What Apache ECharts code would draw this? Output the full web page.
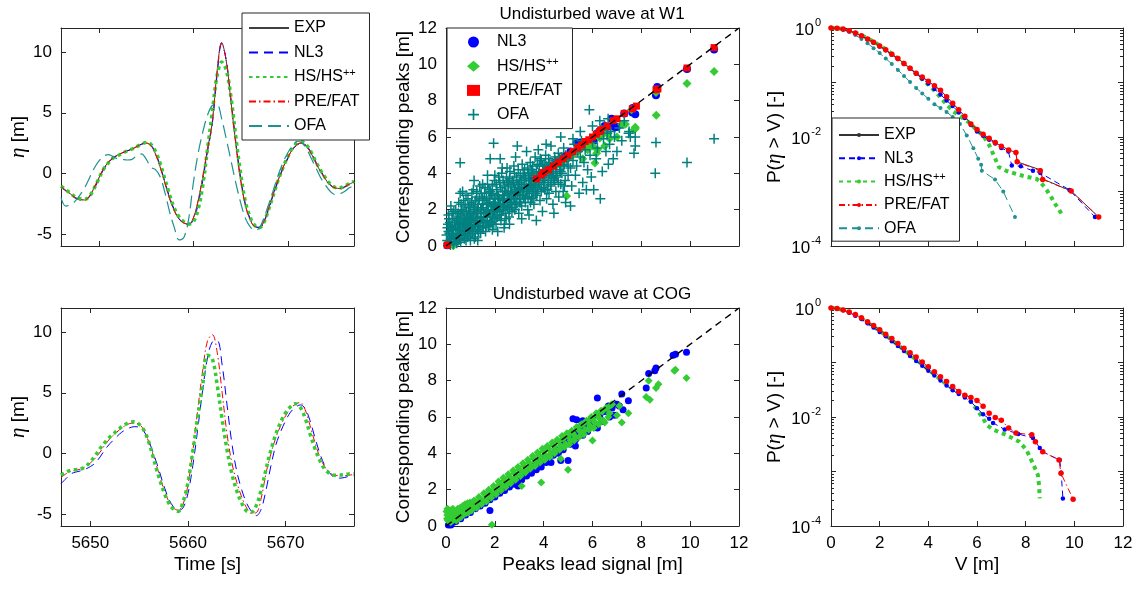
<!DOCTYPE html>
<html>
<head>
<meta charset="utf-8">
<script src="https://cdn.jsdelivr.net/npm/echarts@6/dist/echarts.min.js"></script>
<style>
html, body { margin: 0; padding: 0; background: #fff; }
#main { width: 1138px; height: 590px; }
</style>
</head>
<body>
<div id="main"></div>
<script>
// ---- time series (left column) ----
var tTop = [506,506.5,507,507.5,508,508.5,509,509.5,510,510.5,511,511.5,512,512.5,513,513.5,514,514.5,515,515.5,516,516.5,517,517.5,518,518.5,519,519.5,520,520.5,521,521.5,522,522.5,523,523.5,524,524.5,525,525.5,526,526.5,527,527.5,528,528.5,529,529.5,530,530.5,531,531.5,532,532.5,533,533.5,534,534.5,535,535.5,536,536.5,537];
var expTop = [-1.1,-1.4,-1.7,-2.0,-2.15,-2.2,-1.9,-1.2,-0.4,0.4,0.9,1.3,1.5,1.7,1.85,2.0,2.2,2.4,2.5,2.3,1.6,0.5,-0.8,-2.1,-3.1,-3.8,-4.1,-4.2,-3.7,-2.3,-0.3,2.0,4.2,8.3,10.8,9.2,5.8,2.4,-0.5,-2.6,-3.8,-4.4,-4.45,-3.9,-2.8,-1.6,-0.5,0.5,1.3,2.0,2.4,2.5,2.2,1.6,0.8,0.1,-0.5,-1.0,-1.2,-1.25,-1.1,-0.9,-0.7];
var nl3Top = [-1.15,-1.45,-1.75,-2.05,-2.2,-2.25,-1.95,-1.3,-0.5,0.3,0.85,1.25,1.5,1.7,1.85,2.0,2.2,2.4,2.5,2.35,1.7,0.6,-0.7,-2.0,-3.0,-3.75,-4.1,-4.25,-3.85,-2.6,-0.6,1.8,4.0,8.0,10.7,9.3,6.0,2.6,-0.3,-2.5,-3.7,-4.35,-4.5,-4.0,-2.9,-1.7,-0.6,0.4,1.2,1.95,2.35,2.5,2.25,1.7,0.9,0.2,-0.45,-0.95,-1.2,-1.3,-1.15,-0.95,-0.75];
var hsTop = [-1.05,-1.35,-1.65,-1.95,-2.1,-2.15,-1.9,-1.25,-0.45,0.35,0.85,1.25,1.45,1.65,1.85,2.0,2.2,2.4,2.55,2.4,1.8,0.8,-0.5,-1.8,-2.9,-3.6,-4.0,-4.2,-4.0,-3.0,-1.0,2.0,5.0,8.0,9.2,8.5,6.2,3.0,0.0,-2.3,-3.6,-4.3,-4.5,-4.0,-2.9,-1.7,-0.5,0.5,1.4,2.1,2.5,2.6,2.3,1.7,0.9,0.2,-0.4,-0.9,-1.15,-1.2,-1.05,-0.85,-0.65];
var preTop = [-1.1,-1.4,-1.7,-2.0,-2.15,-2.2,-1.9,-1.2,-0.4,0.4,0.9,1.3,1.5,1.7,1.85,2.0,2.2,2.4,2.5,2.3,1.6,0.5,-0.8,-2.1,-3.1,-3.8,-4.1,-4.2,-3.7,-2.3,-0.3,2.0,4.2,8.3,10.8,9.2,5.8,2.4,-0.5,-2.6,-3.8,-4.4,-4.45,-3.9,-2.8,-1.6,-0.5,0.5,1.3,2.0,2.4,2.5,2.2,1.6,0.8,0.1,-0.5,-1.0,-1.2,-1.25,-1.1,-0.9,-0.7];
var ofaTop = [-2.0,-2.7,-2.6,-2.3,-1.8,-1.2,-0.4,0.4,1.0,1.4,1.55,1.4,1.2,1.15,1.1,1.15,1.45,1.6,1.2,0.5,0.3,-0.3,-1.6,-3.2,-4.5,-5.5,-5.3,-3.8,-0.8,1.6,3.4,4.8,5.6,5.7,4.5,2.8,1.0,-0.8,-2.4,-3.7,-4.4,-4.7,-4.5,-3.6,-2.5,-1.3,-0.1,0.9,1.7,2.3,2.65,2.5,2.0,1.2,0.4,-0.4,-1.0,-1.5,-1.75,-1.7,-1.5,-1.2,-1.0];

var tBot = [5647,5647.5,5648,5648.5,5649,5649.5,5650,5650.5,5651,5651.5,5652,5652.5,5653,5653.5,5654,5654.5,5655,5655.5,5656,5656.5,5657,5657.5,5658,5658.5,5659,5659.5,5660,5660.5,5661,5661.5,5662,5662.5,5663,5663.5,5664,5664.5,5665,5665.5,5666,5666.5,5667,5667.5,5668,5668.5,5669,5669.5,5670,5670.5,5671,5671.5,5672,5672.5,5673,5673.5,5674,5674.5,5675,5675.5,5676,5676.5,5677];
var nl3Bot = [-2.5,-2.1,-1.7,-1.55,-1.45,-1.3,-1.1,-0.8,-0.3,0.3,0.8,1.2,1.6,1.9,2.1,2.2,2.15,1.8,1.0,-0.1,-1.3,-2.6,-3.7,-4.4,-4.7,-4.5,-3.3,-1.0,2.0,5.2,7.9,9.2,9.3,7.3,4.0,0.8,-1.5,-3.0,-4.1,-4.8,-5.15,-4.6,-3.0,-1.0,0.7,1.8,2.7,3.4,3.8,4.0,3.7,2.7,1.3,0.0,-1.0,-1.6,-2.0,-2.05,-2.0,-1.9,-1.85];
var hsBot = [-1.8,-1.55,-1.4,-1.35,-1.3,-1.1,-0.7,-0.2,0.4,0.9,1.35,1.7,2.05,2.35,2.55,2.6,2.4,1.9,0.9,-0.5,-1.9,-3.1,-4.05,-4.6,-4.8,-4.0,-2.4,0.2,3.0,5.6,8.1,7.8,5.6,2.8,0.3,-1.7,-3.1,-4.1,-4.75,-4.85,-4.3,-3.0,-1.3,0.3,1.6,2.6,3.35,3.85,4.1,3.8,2.9,1.6,0.4,-0.6,-1.3,-1.65,-1.8,-1.8,-1.75,-1.7,-1.7];
var preBot = [-2.0,-1.7,-1.5,-1.4,-1.3,-1.1,-0.8,-0.4,0.1,0.7,1.2,1.6,1.95,2.25,2.45,2.5,2.4,1.9,0.9,-0.3,-1.6,-2.9,-3.9,-4.5,-4.7,-4.2,-2.6,0.2,3.6,6.8,9.3,9.8,8.3,5.0,1.6,-0.8,-2.4,-3.6,-4.5,-4.95,-4.9,-3.7,-1.6,0.0,1.3,2.3,3.1,3.7,4.05,4.2,3.6,2.3,0.9,-0.3,-1.1,-1.6,-1.8,-1.85,-1.85,-1.8,-1.75];

var tTicksTop = [510, 520, 530];
var tTicksBot = [5650, 5660, 5670];
var etaTicks = [-5, 0, 5, 10];

// ---- peak scatter (middle column), [lead, corresponding] ----
var nl3Peaks = [[0.05,0.04],[1.0,1.0],[2.0,2.0],[3.0,3.0],[3.5,3.6],[3.9,4.0],[4.1,4.15],[4.3,4.35],[4.5,4.6],[4.7,4.75],[4.9,4.95],[5.1,5.2],[5.35,5.65],[5.5,5.7],[5.6,5.5],[5.8,5.75],[5.9,5.6],[6.05,5.8],[6.2,6.2],[6.3,6.35],[6.5,6.6],[6.6,6.55],[6.78,7.0],[6.9,6.55],[7.0,6.55],[7.3,7.3],[7.63,7.35],[7.75,7.25],[7.65,7.6],[8.6,8.3],[8.65,8.75],[9.87,9.75],[10.98,10.82]];
var hsPeaks = [[0.3,0.02],[0.05,0.1],[1,1.0],[2,2.0],[3,2.95],[3.5,3.45],[4.0,3.9],[4.2,4.1],[4.5,4.4],[4.7,4.5],[4.8,4.7],[4.94,2.75],[5.0,4.8],[5.2,5.0],[5.4,5.2],[5.5,5.3],[5.6,4.8],[5.7,5.5],[5.8,5.3],[5.9,5.6],[6.0,5.5],[6.1,4.57],[6.17,5.1],[6.2,5.3],[6.3,5.95],[6.4,6.1],[6.5,5.5],[6.6,6.2],[6.7,5.9],[7.0,6.0],[7.2,6.7],[7.35,6.7],[7.75,6.53],[7.75,6.45],[7.7,6.4],[7.6,7.5],[8.61,7.2],[8.6,8.45],[9.87,8.95],[10.98,9.6]];
var prePeaks = [[0.05,0.05],[3.7,3.7],[3.9,3.9],[4.0,4.05],[4.2,4.2],[4.4,4.4],[4.6,4.6],[4.8,4.8],[5.0,5.0],[5.2,5.2],[5.4,5.4],[5.55,5.55],[5.7,5.75],[5.85,5.85],[6.0,6.0],[6.15,6.15],[6.3,6.3],[6.35,6.4],[6.6,6.6],[6.85,6.9],[7.0,7.0],[7.3,7.3],[7.63,7.55],[7.8,7.7],[8.6,8.6],[8.68,8.65],[9.87,9.8],[10.98,10.92]];
var ofaPeaks = [
[0.05,0.3],[0.1,0.8],[0.12,1.5],[0.15,0.2],[0.2,1.1],[0.22,0.5],[0.25,1.8],[0.3,0.1],[0.3,0.9],[0.35,1.3],[0.4,0.4],[0.4,2.0],[0.45,0.7],[0.48,1.6],[0.08,1.2],[0.18,0.05],[0.28,0.6],[0.38,1.0],[0.5,0.3],[0.5,1.2],
[0.02,0.6],[0.06,1.0],[0.1,0.15],[0.1,1.7],[0.14,0.7],[0.16,1.3],[0.2,0.4],[0.2,2.2],[0.24,0.9],[0.26,1.5],[0.3,0.5],[0.32,1.9],[0.34,0.25],[0.36,1.1],[0.42,1.4],[0.44,0.15],[0.46,1.0],[0.5,1.8],[0.5,0.6],[0.52,2.4],
[0.55,0.9],[0.6,1.5],[0.6,0.2],[0.62,2.3],[0.65,0.6],[0.7,1.1],[0.7,1.9],[0.75,0.4],[0.78,1.4],[0.8,0.8],[0.82,2.8],[0.85,1.7],[0.88,0.5],[0.9,1.2],[0.92,2.1],[0.95,0.9],[0.98,1.5],[1.0,0.3],[0.58,2.9],[0.72,1.3],[0.68,3.0],
[0.54,1.3],[0.56,0.35],[0.58,1.7],[0.6,1.0],[0.62,0.6],[0.64,2.0],[0.66,1.25],[0.7,0.7],[0.72,2.5],[0.74,1.6],[0.76,0.9],[0.78,2.2],[0.8,1.2],[0.82,0.3],[0.84,1.9],[0.86,1.1],[0.9,1.5],[0.9,2.6],[0.94,0.6],[0.96,1.8],[0.98,2.3],[1.0,1.3],[1.0,0.8],
[1.02,1.0],[1.05,2.4],[1.08,0.7],[1.1,1.6],[1.12,3.1],[1.15,1.2],[1.18,2.0],[1.2,0.5],[1.22,1.4],[1.25,2.7],[1.28,0.9],[1.3,1.8],[1.32,2.3],[1.35,1.1],[1.38,3.3],[1.4,1.6],[1.42,0.7],[1.45,2.1],[1.48,1.3],[1.5,2.6],[1.15,3.6],[1.3,0.3],
[1.02,1.8],[1.04,1.4],[1.06,2.9],[1.1,0.9],[1.12,2.2],[1.14,1.7],[1.16,0.4],[1.2,2.5],[1.22,1.1],[1.24,1.9],[1.26,3.0],[1.28,1.5],[1.3,2.1],[1.34,0.8],[1.36,2.6],[1.4,1.3],[1.42,2.0],[1.44,2.9],[1.46,1.6],[1.5,1.0],[1.5,2.3],[1.5,3.4],
[1.52,1.0],[1.55,1.8],[1.58,2.9],[1.6,1.4],[1.62,0.8],[1.65,2.3],[1.68,1.6],[1.7,3.4],[1.72,2.0],[1.75,1.1],[1.78,2.6],[1.8,1.7],[1.82,3.0],[1.85,1.3],[1.88,2.2],[1.9,0.9],[1.92,2.8],[1.95,1.9],[1.98,3.6],[2.0,1.5],[0.58,4.58],[1.81,4.8],[1.95,5.65],[1.7,3.9],
[1.52,2.0],[1.54,1.3],[1.56,2.5],[1.6,1.8],[1.6,3.2],[1.64,1.1],[1.66,2.7],[1.7,1.4],[1.72,2.3],[1.74,1.9],[1.76,3.1],[1.8,2.4],[1.8,1.2],[1.84,2.0],[1.86,2.9],[1.9,1.6],[1.9,3.3],[1.94,2.3],[1.96,1.2],[2.0,2.6],[2.0,1.9],[2.0,3.9],
[2.02,2.4],[2.05,1.2],[2.08,3.1],[2.1,2.0],[2.12,0.8],[2.15,2.7],[2.18,1.7],[2.2,3.5],[2.22,2.3],[2.25,1.4],[2.28,4.0],[2.3,2.0],[2.32,3.0],[2.35,2.6],[2.38,1.0],[2.4,3.3],[2.42,2.2],[2.45,1.8],[2.48,3.8],[2.5,2.9],[2.22,4.8],[2.3,4.3],[2.4,1.2],
[2.04,2.2],[2.06,3.4],[2.1,1.6],[2.1,2.8],[2.14,2.3],[2.16,3.8],[2.2,1.9],[2.2,2.6],[2.24,3.2],[2.26,1.7],[2.3,2.5],[2.34,3.6],[2.36,2.1],[2.4,2.8],[2.44,3.0],[2.46,1.5],[2.5,2.2],[2.5,3.5],[2.5,4.3],
[2.52,2.1],[2.55,3.4],[2.58,1.6],[2.6,2.6],[2.62,4.1],[2.65,3.0],[2.68,2.3],[2.7,1.9],[2.72,3.6],[2.75,2.7],[2.78,4.4],[2.8,3.2],[2.82,2.0],[2.85,2.9],[2.88,3.8],[2.9,2.4],[2.92,5.5],[2.95,3.4],[2.98,1.8],[3.0,3.0],[2.6,1.2],[2.85,4.9],
[2.54,2.6],[2.56,3.0],[2.6,2.0],[2.6,3.7],[2.64,2.4],[2.66,3.3],[2.7,2.9],[2.74,2.1],[2.76,3.5],[2.8,2.6],[2.8,4.0],[2.84,3.1],[2.86,2.3],[2.9,3.6],[2.94,2.8],[2.96,4.2],[3.0,2.4],[3.0,3.5],
[3.02,2.6],[3.05,3.9],[3.08,3.3],[3.1,2.2],[3.12,4.5],[3.15,3.0],[3.18,2.7],[3.2,3.7],[3.22,4.2],[3.25,2.4],[3.28,3.4],[3.3,5.2],[3.32,3.1],[3.35,2.0],[3.38,4.0],[3.4,3.6],[3.42,2.9],[3.45,4.6],[3.48,3.3],[3.5,2.6],[3.1,1.5],[3.4,1.7],
[3.04,3.0],[3.06,2.4],[3.1,3.6],[3.14,2.8],[3.16,4.0],[3.2,3.2],[3.24,2.6],[3.26,3.8],[3.3,3.0],[3.34,4.3],[3.36,2.7],[3.4,3.3],[3.44,3.9],[3.46,2.4],[3.5,3.4],[3.5,4.2],
[3.52,3.9],[3.55,4.4],[3.58,3.0],[3.6,2.3],[3.62,3.6],[3.65,4.9],[3.68,3.3],[3.7,4.1],[3.72,2.8],[3.75,3.8],[3.78,5.3],[3.8,3.5],[3.82,4.4],[3.85,2.5],[3.88,3.9],[3.9,4.7],[3.92,3.2],[3.95,1.9],[3.98,4.2],[4.0,3.6],[3.7,1.4],[4.1,5.6],
[3.54,3.2],[3.56,2.7],[3.6,4.0],[3.64,3.4],[3.66,2.9],[3.7,3.7],[3.74,4.5],[3.76,3.1],[3.8,4.0],[3.84,3.4],[3.86,4.8],[3.9,3.0],[3.94,3.8],[3.96,4.4],[4.0,3.2],[4.0,4.0],
[4.02,4.5],[4.05,3.1],[4.08,5.0],[4.1,3.9],[4.12,2.6],[4.15,4.3],[4.18,3.5],[4.2,4.8],[4.22,2.9],[4.25,4.0],[4.28,3.3],[4.3,5.5],[4.32,3.8],[4.35,4.5],[4.38,2.3],[4.4,4.1],[4.42,1.8],[4.45,3.6],[4.48,4.7],[4.5,3.0],
[4.05,3.6],[4.1,4.4],[4.15,3.1],[4.2,3.9],[4.25,4.6],[4.3,3.4],[4.35,4.0],[4.4,3.7],[4.45,4.9],[4.5,3.9],[4.55,4.6],[4.6,3.5],[4.65,4.8],[4.7,4.1],[4.8,4.4],[4.85,3.3],[4.9,5.0],[5.0,4.4],
[4.52,4.4],[4.55,3.8],[4.6,5.1],[4.62,2.7],[4.65,4.2],[4.7,3.4],[4.72,4.9],[4.75,4.0],[4.8,3.0],[4.82,5.4],[4.85,4.5],[4.88,3.6],[4.9,2.4],[4.95,4.8],[5.0,3.9],[5.1,2.2],[4.7,6.0],
[5.05,5.0],[5.1,4.3],[5.15,3.3],[5.2,4.7],[5.25,5.6],[5.3,3.9],[5.35,4.4],[5.4,5.2],[5.45,2.9],[5.5,4.9],[5.55,5.8],[5.6,3.5],[5.65,4.6],[5.7,5.3],[5.75,3.1],[5.8,4.2],[5.87,7.5],[5.9,5.0],[5.95,3.8],[6.0,5.7],[5.5,6.3],[5.2,5.9],
[6.05,3.1],[6.1,6.1],[6.15,4.8],[6.2,5.4],[6.32,2.6],[6.35,6.4],[6.4,4.1],[6.45,5.9],[6.5,6.6],[6.55,5.2],[6.64,7.0],[6.65,4.5],[6.7,5.6],[6.75,6.3],[6.85,4.8],[6.9,6.0],[7.0,5.2],[7.1,6.5],[7.2,5.8],[7.3,6.9],[7.48,6.2],[7.5,6.3],[7.55,6.0],[7.75,5.5],[7.7,5.1],[7.75,6.0],[6.3,6.9],[6.0,6.6],[6.6,6.2],
[8.6,5.7],[8.57,4.0],[9.87,4.6],[10.98,5.9]];

var nl3PeaksCog = [[0.1,0.05],[0.3,0.2],[0.5,0.4],[0.7,0.6],[0.9,0.8],[1.1,0.95],[1.3,1.15],[1.5,1.35],[1.6,1.3],[1.7,1.55],[1.8,0.85],[1.9,1.7],[2.1,1.9],[2.3,2.05],[2.5,2.25],[2.7,2.4],[2.9,2.6],[2.95,2.2],[3.1,2.55],[3.2,2.9],[3.4,3.05],[3.6,3.3],[3.8,3.5],[3.9,3.25],[4.0,3.7],[4.2,3.8],[4.3,3.5],[4.5,4.2],[4.7,3.6],[4.75,4.5],[4.9,4.6],[5.0,3.6],[5.05,4.85],[5.2,5.9],[5.25,4.9],[5.3,4.4],[5.4,5.2],[5.5,5.4],[5.6,5.8],[5.7,5.6],[5.9,5.8],[6.0,5.9],[6.2,7.05],[6.2,5.4],[6.3,6.1],[6.5,6.3],[6.6,6.4],[6.7,6.0],[6.8,6.5],[7.0,6.7],[7.1,6.6],[7.2,7.27],[7.25,6.4],[7.47,6.9],[8.2,7.6],[8.3,8.4],[8.55,8.55],[8.6,8.7],[9.3,9.4],[9.4,9.45],[9.85,9.56],
[0.2,0.05],[0.4,0.25],[0.6,0.4],[0.8,0.6],[1.0,0.75],[1.2,0.95],[1.4,1.1],[1.6,1.25],[1.8,1.45],[2.0,1.6],[2.2,1.8],[2.4,1.95],[2.6,2.15],[2.8,2.3],[3.0,2.5],[3.3,2.75],[3.5,2.9],[3.7,3.1],[4.1,3.5],[4.4,3.9],[4.6,4.0],[4.8,4.2],[5.1,4.5],[5.35,5.85],[5.3,4.75],[5.6,5.0],[5.8,5.2],[6.1,5.5],[6.4,5.75],[6.65,6.6],[6.9,6.1]];
var hsPeaksCog = [[0.05,0.6],[0.08,0.3],[0.1,0.9],[0.15,0.5],[0.2,0.2],[0.25,0.7],[0.3,0.35],[0.35,0.5],[0.4,0.6],[0.45,0.4],[0.5,0.7],[0.55,0.55],[0.6,0.85],[0.65,0.6],[0.7,0.8],[0.75,0.75],[0.8,1.0],[0.85,0.8],[0.9,1.05],[0.95,0.9],[1.0,1.15],[1.1,1.05],[1.2,1.3],[1.3,1.2],[1.4,1.5],[1.5,1.4],[1.6,1.75],[1.7,1.6],[1.8,1.9],[1.88,0.07],[1.9,1.8],[2.0,2.1],[2.1,1.95],[2.2,2.3],[2.3,2.2],[2.4,2.5],[2.5,2.35],[2.6,2.7],[2.7,2.55],[2.8,2.9],[2.9,2.75],[3.0,3.1],[3.1,2.2],[3.1,2.95],[3.2,3.3],[3.3,3.1],[3.4,3.5],[3.5,3.3],[3.6,3.7],[3.7,3.5],[3.8,3.9],[3.9,2.4],[3.9,3.7],[4.0,4.1],[4.1,3.85],[4.2,4.25],[4.3,4.0],[4.4,4.45],[4.5,4.2],[4.6,4.65],[4.7,3.7],[4.7,4.4],[4.8,4.8],[4.9,4.5],[5.0,3.1],[5.0,4.95],[5.1,4.7],[5.2,5.1],[5.3,4.9],[5.4,5.35],[5.5,5.2],[5.6,5.6],[5.7,5.3],[5.8,5.75],[5.9,5.5],[6.0,4.7],[6.0,5.9],[6.1,5.7],[6.2,6.1],[6.3,5.9],[6.4,6.3],[6.5,5.7],[6.6,6.5],[6.7,6.2],[6.8,6.7],[7.0,6.1],[7.1,6.6],[7.2,5.7],[7.47,6.2],[8.2,7.1],[8.3,8.0],[8.35,6.95],[8.6,7.6],[8.7,7.8],[9.35,8.55],[9.4,8.6],[9.85,8.15],
[0.02,0.8],[0.04,0.4],[0.06,0.95],[0.12,0.65],[0.18,0.85],[0.22,0.4],[0.28,0.95],[0.32,0.65],[0.38,0.8],[0.42,0.3],[0.48,0.95],[0.52,0.4],[0.58,1.0],[0.62,0.5],[0.68,1.1],[0.72,0.65],[0.78,1.2],[0.82,0.7],[0.88,1.25],[0.92,0.75],[0.98,1.3],[1.05,0.85],[1.15,1.4],[1.25,1.0],[1.35,1.6],[1.45,1.2],[1.55,1.8],[1.65,1.35],[1.75,2.0],[1.85,1.55],[1.95,2.2],[2.05,1.75],[2.15,2.45],[2.25,1.95],[2.35,2.65],[2.45,2.15],[2.55,2.85],[2.65,2.35],[2.75,3.05],[2.85,2.55],[2.95,3.25],[3.05,2.75],[3.15,3.45],[3.25,2.95],[3.35,3.65],[3.45,3.15],[3.55,3.85],[3.65,3.3],[3.75,4.05],[3.85,3.5],[3.95,4.25],[4.05,3.65],[4.15,4.4],[4.25,3.8],[4.35,4.6],[4.45,4.0],[4.55,4.75],[4.65,4.2],[4.75,4.95],[4.85,4.35],[4.95,5.1],[5.05,4.5],[5.15,5.25],[5.25,4.7],[5.35,5.45],[5.45,4.9],[5.55,5.6],[5.65,5.05],[5.75,5.8],[5.85,5.3],[5.95,6.0],[6.05,5.4],[6.15,6.2],[6.25,5.6],[6.35,6.35],[6.45,5.8],[6.55,6.5],[6.65,6.0],[6.75,6.65]];
var diag = [[0, 0], [12, 12]];

// ---- exceedance probability (right column), [V, P] ----
var expExc = [[0,1],[0.25,0.989],[0.5,0.955],[0.75,0.891],[1,0.813],[1.25,0.724],[1.5,0.631],[1.75,0.55],[2,0.468],[2.25,0.398],[2.5,0.331],[2.75,0.275],[3,0.224],[3.25,0.182],[3.5,0.148],[3.75,0.126],[4,0.105],[4.25,0.087],[4.5,0.072],[4.75,0.055],[5,0.0417],[5.25,0.0316],[5.5,0.024],[5.75,0.0174],[6,0.0138],[6.25,0.0112],[6.5,0.0095],[6.75,0.0079],[7,0.0068],[7.3,0.0058],[7.6,0.0052],[7.65,0.0035],[8.6,0.0025],[8.7,0.0017],[9.87,0.00102],[11.0,0.00034]];
var nl3Exc = [[0,1],[0.25,0.986],[0.5,0.944],[0.75,0.881],[1,0.804],[1.25,0.716],[1.5,0.624],[1.75,0.537],[2,0.457],[2.25,0.389],[2.5,0.324],[2.75,0.269],[3,0.219],[3.25,0.178],[3.5,0.145],[3.75,0.117],[4,0.0955],[4.25,0.0759],[4.5,0.0603],[4.75,0.0468],[5,0.0372],[5.25,0.0282],[5.5,0.0224],[5.75,0.0166],[6,0.0126],[6.25,0.0105],[6.5,0.0089],[6.75,0.0076],[7,0.0063],[7.29,0.0054],[7.43,0.003],[7.8,0.0029],[8.3,0.0024],[8.6,0.00219],[9.8,0.00107],[10.85,0.00034]];
var hsExc = [[0,1],[0.25,0.989],[0.5,0.955],[0.75,0.902],[1,0.822],[1.25,0.741],[1.5,0.646],[1.75,0.562],[2,0.479],[2.25,0.407],[2.5,0.339],[2.75,0.275],[3,0.224],[3.25,0.182],[3.5,0.145],[3.75,0.115],[4,0.0912],[4.25,0.0708],[4.5,0.0537],[4.75,0.0398],[5,0.0302],[5.25,0.0251],[5.5,0.0209],[5.75,0.0174],[6,0.0132],[6.25,0.0107],[6.5,0.0071],[6.75,0.004],[6.9,0.0028],[7.2,0.0024],[7.6,0.0021],[8.05,0.00186],[8.45,0.0017],[8.6,0.00151],[8.86,0.00107],[9.05,0.00079],[9.2,0.0006],[9.35,0.00048],[9.55,0.00034]];
var preExc = [[0,1],[0.25,0.989],[0.5,0.955],[0.75,0.891],[1,0.813],[1.25,0.724],[1.5,0.631],[1.75,0.55],[2,0.468],[2.25,0.398],[2.5,0.331],[2.75,0.275],[3,0.224],[3.25,0.182],[3.5,0.148],[3.75,0.126],[4,0.105],[4.25,0.087],[4.5,0.072],[4.75,0.055],[5,0.0417],[5.25,0.0316],[5.5,0.024],[5.75,0.0174],[6,0.0138],[6.25,0.0112],[6.5,0.0095],[6.75,0.0079],[7,0.0068],[7.3,0.0058],[7.6,0.0052],[7.65,0.0035],[8.6,0.0024],[8.7,0.00166],[9.87,0.00102],[11.0,0.00034]];
var ofaExc = [[0,1],[0.25,0.977],[0.5,0.923],[0.75,0.841],[1,0.741],[1.25,0.631],[1.5,0.525],[1.75,0.427],[2,0.347],[2.25,0.275],[2.5,0.219],[2.75,0.17],[3,0.132],[3.25,0.102],[3.5,0.0794],[3.75,0.0631],[4,0.0501],[4.25,0.0398],[4.5,0.0339],[4.75,0.0288],[5,0.0234],[5.3,0.0174],[5.58,0.0107],[5.85,0.0062],[6.05,0.004],[6.17,0.0031],[6.2,0.0024],[6.74,0.00166],[7.08,0.001],[7.56,0.00034]];

var nl3ExcCog = [[0,1],[0.25,0.973],[0.5,0.912],[0.75,0.822],[1,0.724],[1.25,0.631],[1.5,0.525],[1.75,0.437],[2,0.363],[2.25,0.302],[2.5,0.245],[2.75,0.2],[3,0.162],[3.25,0.132],[3.5,0.107],[3.75,0.0871],[4,0.0708],[4.25,0.0575],[4.5,0.0468],[4.75,0.038],[5,0.0309],[5.25,0.0263],[5.5,0.0229],[5.75,0.0191],[6,0.0145],[6.25,0.0112],[6.5,0.0093],[6.66,0.0078],[7.14,0.0059],[7.69,0.0049],[8.3,0.0041],[8.58,0.0027],[8.71,0.0023],[9.4,0.00162],[9.46,0.00095],[9.53,0.00032]];
var hsExcCog = [[0,1],[0.25,0.977],[0.5,0.923],[0.75,0.832],[1,0.741],[1.25,0.646],[1.5,0.537],[1.75,0.457],[2,0.38],[2.25,0.316],[2.5,0.257],[2.75,0.209],[3,0.17],[3.25,0.138],[3.5,0.112],[3.75,0.0912],[4,0.0741],[4.25,0.0603],[4.5,0.049],[4.75,0.0398],[5,0.0331],[5.25,0.0282],[5.5,0.0251],[5.75,0.0191],[6,0.0135],[6.25,0.0095],[6.39,0.0072],[6.66,0.0059],[7.2,0.0047],[7.74,0.0035],[8.03,0.0025],[8.3,0.0014],[8.5,0.00087],[8.55,0.00056],[8.58,0.00032]];
var preExcCog = [[0,1],[0.25,0.977],[0.5,0.923],[0.75,0.841],[1,0.759],[1.25,0.661],[1.5,0.562],[1.75,0.479],[2,0.398],[2.25,0.331],[2.5,0.275],[2.75,0.224],[3,0.182],[3.25,0.151],[3.5,0.126],[3.75,0.102],[4,0.0832],[4.25,0.0676],[4.5,0.055],[4.75,0.0447],[5,0.0363],[5.25,0.0295],[5.5,0.0251],[5.75,0.0229],[6,0.02],[6.25,0.0158],[6.5,0.0117],[6.75,0.0098],[7,0.0087],[7.3,0.0063],[7.6,0.0051],[8.25,0.0047],[8.4,0.0035],[8.7,0.0023],[9.37,0.00162],[9.45,0.00093],[9.95,0.00031]];

var logMajor = [1e-4, 1e-3, 1e-2, 1e-1, 1];
var logLabels = [1e-4, 1e-2, 1];
var logMinor = [2e-4,3e-4,4e-4,5e-4,6e-4,7e-4,8e-4,9e-4,2e-3,3e-3,4e-3,5e-3,6e-3,7e-3,8e-3,9e-3,2e-2,3e-2,4e-2,5e-2,6e-2,7e-2,8e-2,9e-2,0.2,0.3,0.4,0.5,0.6,0.7,0.8,0.9];

var FONT = '"Liberation Sans", Arial, sans-serif';
var AX = '#262626';
var C_EXP = '#404040', C_NL3 = '#0000ff', C_HS = '#33cc33', C_PRE = '#ff0000', C_OFA = '#1f9191', C_OFA_S = '#008080';

var grids = [
	{left: 61, top: 28, width: 293, height: 218},
	{left: 446, top: 28, width: 293, height: 218},
	{left: 831, top: 28, width: 292, height: 218},
	{left: 61, top: 308, width: 293, height: 218},
	{left: 446, top: 308, width: 293, height: 218},
	{left: 831, top: 308, width: 292, height: 218}
];

var nameStyle = {color: '#000', fontSize: 19, fontFamily: FONT,
	rich: {i: {fontStyle: 'italic', fontFamily: '"Liberation Serif", serif', fontSize: 21}}};
var supRich = {
	b: {fontSize: 17, fontFamily: FONT, color: '#000', verticalAlign: 'bottom', lineHeight: 22},
	s: {fontSize: 11, fontFamily: FONT, color: '#000', verticalAlign: 'top', lineHeight: 22, padding: [0, 0, 0, 1]}
};

function axisObj(gi, pos, o, main) {
	var lab = main && !!o.labels;
	var a = {
		type: o.type || 'value', gridIndex: gi, position: pos,
		min: o.min, max: o.max,
		name: main ? (o.name || '') : '', nameLocation: 'middle', nameGap: o.nameGap || 30,
		nameTextStyle: nameStyle,
		axisLine: {show: o.noLine ? false : true, onZero: false, lineStyle: {color: AX, width: 1}},
		axisTick: {show: true, inside: true, length: o.tickLen || 5, lineStyle: {color: AX, width: 1}},
		axisLabel: {show: lab, color: '#000', fontSize: 17, fontFamily: FONT, margin: o.margin || 9,
			formatter: o.formatter || function(v) { return '' + v; }, rich: supRich},
		splitLine: {show: false},
		minorTick: {show: false}
	};
	if (o.type === 'log') a.logBase = 10;
	if (o.interval) a.interval = o.interval;
	if (o.ticks) a.axisTick.customValues = o.ticks;
	if (o.labelValues || o.ticks) a.axisLabel.customValues = o.labelValues || o.ticks;
	return a;
}

var xAxes = [], yAxes = [];
function box(gi, xo, yo) {
	xAxes.push(axisObj(gi, 'bottom', xo, true));
	xAxes.push(axisObj(gi, 'top', xo, false));
	yAxes.push(axisObj(gi, 'left', yo, true));
	yAxes.push(axisObj(gi, 'right', yo, false));
}

function logFmt(v) {
	var e = Math.round(Math.log(v) / Math.LN10);
	return '{b|10}{s|' + e + '}';
}

var etaAxis = {min: -6, max: 12, ticks: etaTicks, labels: true, name: '{i|η} [m]', nameGap: 32};
var peakAxisY = {min: 0, max: 12, interval: 2, labels: true, name: 'Corresponding peaks [m]', nameGap: 33};
var pAxis = {type: 'log', min: 1e-4, max: 1, ticks: logMajor, labelValues: logLabels, labels: true,
	formatter: logFmt, name: 'P({i|η} > V) [-]', nameGap: 46, margin: 10};

box(0, {min: 506, max: 537, ticks: tTicksTop, labels: false}, etaAxis);
box(1, {min: 0, max: 12, interval: 2, labels: false}, peakAxisY);
box(2, {min: 0, max: 12, interval: 2, labels: false}, pAxis);
box(3, {min: 5647, max: 5677, ticks: tTicksBot, labels: true, name: 'Time [s]', nameGap: 29}, etaAxis);
box(4, {min: 0, max: 12, interval: 2, labels: true, name: 'Peaks lead signal [m]', nameGap: 29}, peakAxisY);
box(5, {min: 0, max: 12, interval: 2, labels: true, name: 'V [m]', nameGap: 29}, pAxis);

// minor decade ticks on the log panels
[2, 5].forEach(function(gi) {
	['left', 'right'].forEach(function(p) {
		yAxes.push(axisObj(gi, p, {type: 'log', min: 1e-4, max: 1, ticks: logMinor, tickLen: 3, noLine: true}, false));
	});
});

function zip(t, y) {
	var d = [];
	for (var i = 0; i < t.length; i++) d.push([t[i], y[i]]);
	return d;
}

function tsLine(name, gi, t, y, color, width, dash) {
	return {
		name: name, type: 'line', xAxisIndex: 2 * gi, yAxisIndex: 2 * gi,
		data: zip(t, y), smooth: 0.35, symbol: 'none',
		lineStyle: {color: color, width: width, type: dash, cap: 'butt'},
		itemStyle: {color: color}, emphasis: {disabled: true}
	};
}

function excLine(name, gi, data, color, width, dash, size) {
	return {
		name: name, type: 'line', xAxisIndex: 2 * gi, yAxisIndex: 2 * gi,
		data: data, symbol: size ? 'circle' : 'none', symbolSize: size, showSymbol: !!size, showAllSymbol: true,
		lineStyle: {color: color, width: width, type: dash, cap: 'butt'},
		itemStyle: {color: color}, emphasis: {disabled: true}
	};
}

function dots(name, gi, data, symbol, size, color) {
	return {
		name: name, type: 'scatter', xAxisIndex: 2 * gi, yAxisIndex: 2 * gi,
		data: data, symbol: symbol, symbolSize: size,
		itemStyle: {color: color, opacity: 1}, emphasis: {disabled: true}
	};
}

var PLUS = 'path://M4.25,0h1.5v4.25h4.25v1.5h-4.25v4.25h-1.5v-4.25h-4.25v-1.5h4.25z';
var DASH = [9, 6], LONGDASH = [13, 6], DOT = [3.5, 3.5], DASHDOT = [7, 3, 1.5, 3];

var series = [
	tsLine('EXP', 0, tTop, expTop, C_EXP, 1, 'solid'),
	tsLine('NL3', 0, tTop, nl3Top, C_NL3, 1, DASH),
	tsLine('HS/HS++', 0, tTop, hsTop, C_HS, 3.5, DOT),
	tsLine('PRE/FAT', 0, tTop, preTop, C_PRE, 1, DASHDOT),
	tsLine('OFA', 0, tTop, ofaTop, C_OFA, 1.2, LONGDASH),

	tsLine('NL3_b', 3, tBot, nl3Bot, C_NL3, 1, DASH),
	tsLine('PRE/FAT_b', 3, tBot, preBot, C_PRE, 1, DASHDOT),
	tsLine('HS/HS++_b', 3, tBot, hsBot, C_HS, 3.5, DOT),

	dots('NL3_s', 1, nl3Peaks, 'circle', 8, C_NL3),
	dots('HS/HS++_s', 1, hsPeaks, 'diamond', 9, C_HS),
	dots('OFA_s', 1, ofaPeaks, PLUS, 10, C_OFA_S),
	dots('PRE/FAT_s', 1, prePeaks, 'rect', 7, C_PRE),
	{type: 'line', xAxisIndex: 2, yAxisIndex: 2, data: diag, symbol: 'none', z: 5,
		lineStyle: {color: '#000', width: 1.4, type: [7, 5]}, emphasis: {disabled: true}},

	dots('NL3_c', 4, nl3PeaksCog, 'circle', 7, C_NL3),
	dots('HS/HS++_c', 4, hsPeaksCog, 'diamond', 8, C_HS),
	{type: 'line', xAxisIndex: 8, yAxisIndex: 8, data: diag, symbol: 'none', z: 5,
		lineStyle: {color: '#000', width: 1.4, type: [7, 5]}, emphasis: {disabled: true}},

	excLine('HS/HS++_r', 2, hsExc, C_HS, 4, [4, 4], 0),
	excLine('OFA_r', 2, ofaExc, C_OFA, 1, [8, 5], 4),
	excLine('NL3_r', 2, nl3Exc, C_NL3, 1, [6, 4], 4.5),
	excLine('EXP_r', 2, expExc, '#333', 1, 'solid', 3.5),
	excLine('PRE/FAT_r', 2, preExc, C_PRE, 1, [6, 3, 1.5, 3], 5.5),

	excLine('HS/HS++_q', 5, hsExcCog, C_HS, 4, [4, 4], 0),
	excLine('NL3_q', 5, nl3ExcCog, C_NL3, 1, [6, 4], 4.5),
	excLine('PRE/FAT_q', 5, preExcCog, C_PRE, 1, [6, 3, 1.5, 3], 5.5)
];

function legendFmt(name) {
	var b = name.split('_')[0];
	return b == 'HS/HS++' ? 'HS/HS{s|++}' : b;
}

function legendBox(o) {
	var l = {
		orient: 'vertical', left: o.left, top: o.top, padding: o.padding,
		itemGap: o.gap, itemWidth: o.itemWidth || 40, itemHeight: o.itemHeight,
		backgroundColor: '#fff', borderColor: AX, borderWidth: 1, borderRadius: 0,
		selectedMode: false, data: o.data, formatter: legendFmt,
		textStyle: {color: '#000', fontSize: 16, fontFamily: FONT, lineHeight: 20, padding: o.textPad || 0,
			rich: {s: {fontSize: 11, fontFamily: FONT, color: '#000', verticalAlign: 'top', lineHeight: 14}}}
	};
	if (o.itemStyle) l.itemStyle = o.itemStyle;
	return l;
}

var option = {
	animation: false,
	backgroundColor: '#fff',
	grid: grids,
	xAxis: xAxes,
	yAxis: yAxes,
	legend: [
		legendBox({left: 242, top: 13, padding: [5, 10, 4, 6], gap: 4.5, itemHeight: 12,
			itemStyle: {opacity: 0},
			data: ['EXP', 'NL3', 'HS/HS++', 'PRE/FAT', 'OFA']}),
		legendBox({left: 447, top: 28, padding: [4, 10, 4, 20], gap: 4.2, itemWidth: 13, itemHeight: 11,
			textPad: [0, 0, 0, 12],
			data: ['NL3_s', 'HS/HS++_s', 'PRE/FAT_s', 'OFA_s']}),
		legendBox({left: 832, top: 118, padding: [7, 10, 3, 6], gap: 3.3, itemHeight: 5,
			data: ['EXP_r', 'NL3_r', 'HS/HS++_r', 'PRE/FAT_r', 'OFA_r']})
	],
	graphic: [
		{type: 'text', x: 592, y: 14, style: {text: 'Undisturbed wave at W1', align: 'center', verticalAlign: 'middle',
			fontSize: 17, fontFamily: FONT, fill: '#000'}},
		{type: 'text', x: 592, y: 294, style: {text: 'Undisturbed wave at COG', align: 'center', verticalAlign: 'middle',
			fontSize: 17, fontFamily: FONT, fill: '#000'}}
	],
	series: series
};

var chart = echarts.init(document.getElementById('main'));
chart.setOption(option);
</script>
</body>
</html>
